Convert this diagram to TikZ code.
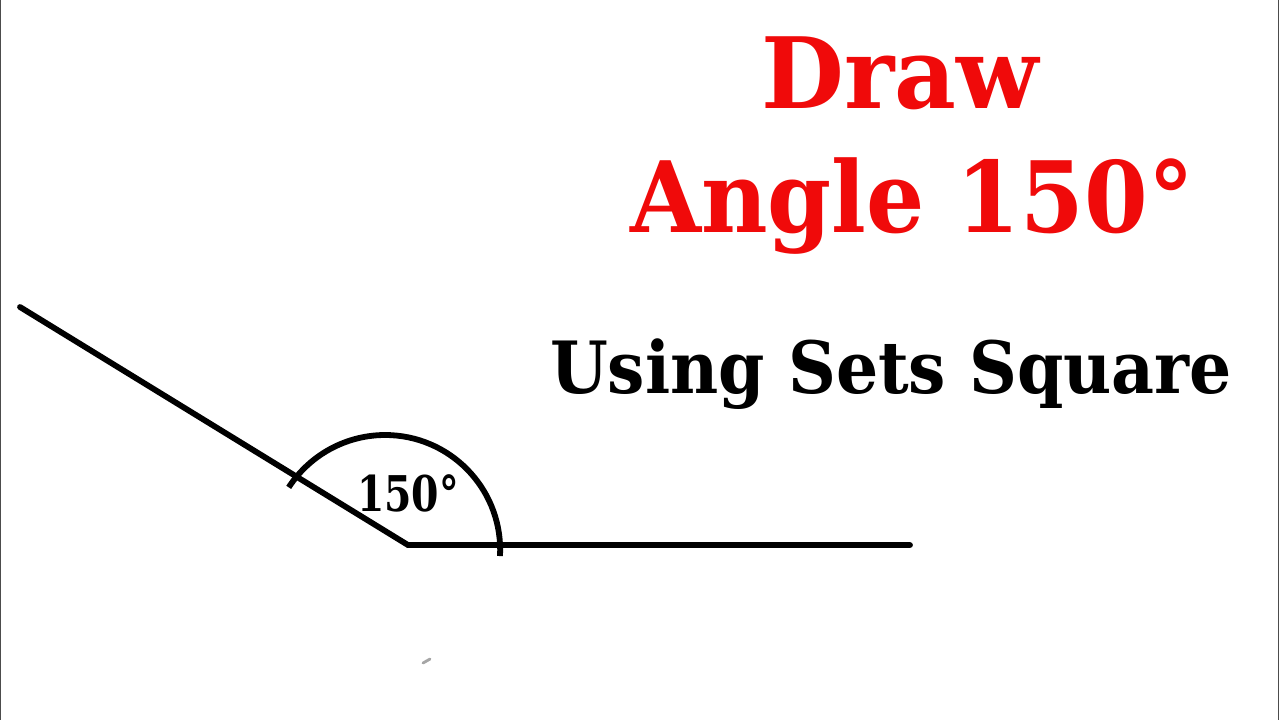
\documentclass[tikz,border=0pt]{standalone}
\usepackage{fontspec}
\setmainfont{DejaVu Serif}
\definecolor{titlered}{RGB}{240,10,10}
\begin{document}
\begin{tikzpicture}[x=0.01cm,y=-0.01cm,
  ray/.style={line width=1.65pt,line cap=round,line join=miter,black},
  title/.style={inner sep=0pt,anchor=base,text=titlered,font=\fontsize{28pt}{30pt}\selectfont\bfseries},
  sub/.style={inner sep=0pt,anchor=base,text=black,font=\fontsize{20.5pt}{22pt}\selectfont\bfseries},
  lab/.style={inner sep=0pt,anchor=base,font=\fontsize{14pt}{15pt}\selectfont\bfseries}]
\useasboundingbox (0,0) rectangle (1280,720);
\fill[white] (0,0) rectangle (1280,720);
\draw[line width=0.5pt,black!70] (0.5,0) -- (0.5,720);
\draw[line width=0.5pt,black!70] (1278.5,0) -- (1278.5,720);
\coordinate (V) at (408,545);
\coordinate (L) at (20,307);
\coordinate (R) at (910,545);
\draw[ray] (L) -- (V) -- (R);
\draw[ray,line cap=butt] (500,556) arc[start angle=3,end angle=-147,radius=115];
\node[lab,xscale=0.8,transform shape] (a) at (408,511) {150°};
\node[title,xscale=0.97,transform shape] (t1) at (900,108) {Draw};
\node[title,xscale=0.93,transform shape] (t2) at (912,232) {Angle 150°};
\node[sub,xscale=0.92,transform shape] (t3) at (891,393) {Using Sets Square};
\draw[line width=0.8pt,black!35,line cap=round] (423,663) -- (430,659);
\end{tikzpicture}
\end{document}
